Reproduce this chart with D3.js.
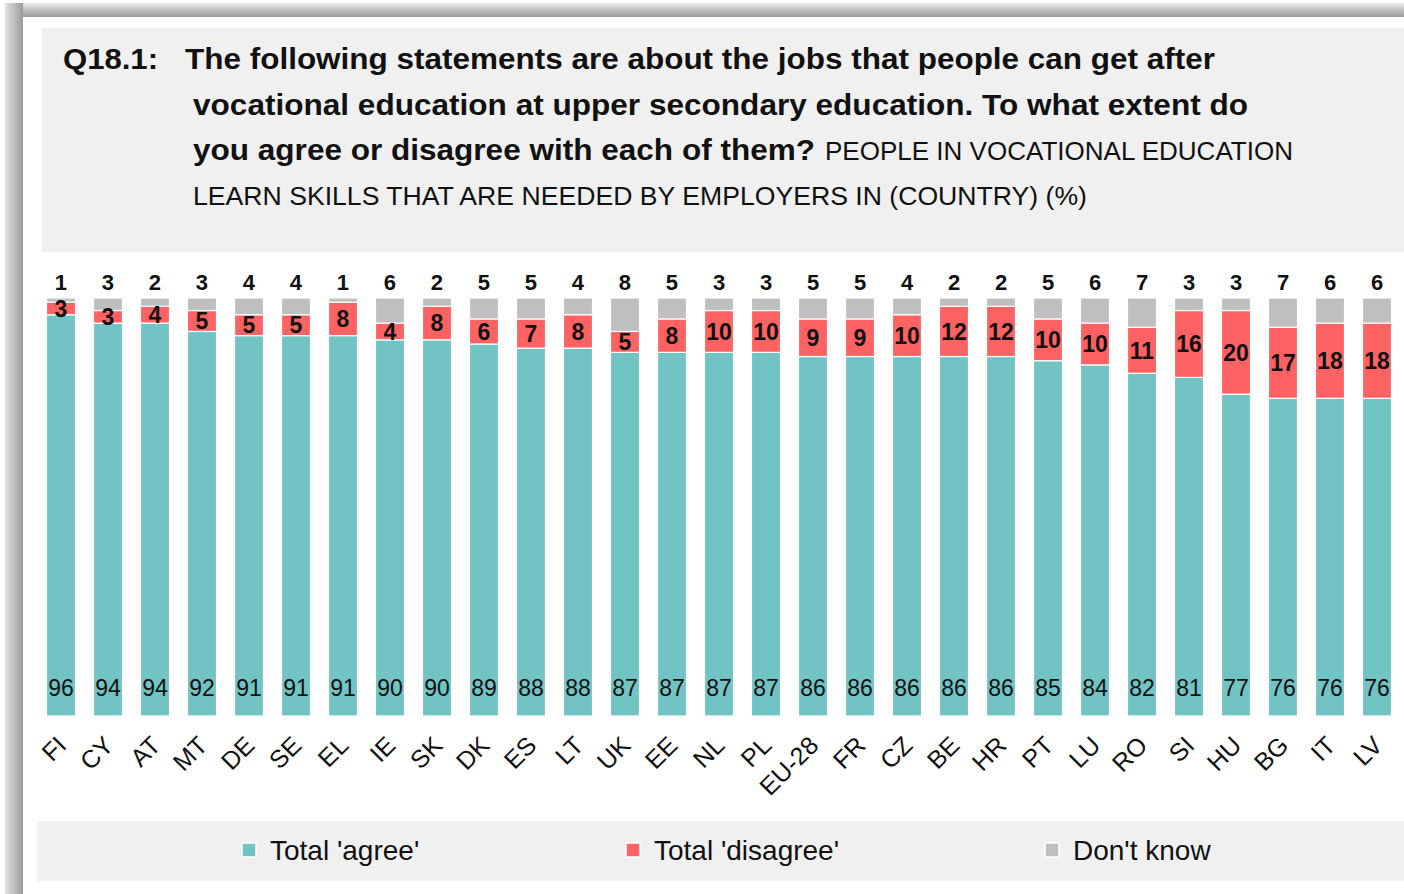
<!DOCTYPE html>
<html>
<head>
<meta charset="utf-8">
<script src="https://cdn.jsdelivr.net/npm/d3@7"></script>
<style>
    body { margin: 0; background: #fff; }
    svg text { font-family: "Liberation Sans", Arial, sans-serif; fill: #111; }
</style>
</head>
<body>
<div class="canvas"></div>
<script>
// data
const countries = ['FI', 'CY', 'AT', 'MT', 'DE', 'SE', 'EL', 'IE', 'SK', 'DK', 'ES', 'LT', 'UK', 'EE', 'NL',
    'PL', 'EU-28', 'FR', 'CZ', 'BE', 'HR', 'PT', 'LU', 'RO', 'SI', 'HU', 'BG', 'IT', 'LV'];
const agree    = [96, 94, 94, 92, 91, 91, 91, 90, 90, 89, 88, 88, 87, 87, 87, 87, 86, 86, 86, 86, 86, 85, 84, 82, 81, 77, 76, 76, 76];
const disagree = [3, 3, 4, 5, 5, 5, 8, 4, 8, 6, 7, 8, 5, 8, 10, 10, 9, 9, 10, 12, 12, 10, 10, 11, 16, 20, 17, 18, 18];
const dontKnow = [1, 3, 2, 3, 4, 4, 1, 6, 2, 5, 5, 4, 8, 5, 3, 3, 5, 5, 4, 2, 2, 5, 6, 7, 3, 3, 7, 6, 6];
const seriesKeys = ['agree', 'disagree', 'dk'];
const seriesNames = ["Total 'agree'", "Total 'disagree'", "Don't know"];

const titleLead = 'Q18.1:';
const titleBold = [
    'The following statements are about the jobs that people can get after',
    'vocational education at upper secondary education. To what extent do',
    'you agree or disagree with each of them?'
];
const titleCaps = [
    'PEOPLE IN VOCATIONAL EDUCATION',
    'LEARN SKILLS THAT ARE NEEDED BY EMPLOYERS IN (COUNTRY) (%)'
];

//##LAYOUT
let width = 1404, height = 894;
const colors = { agree: '#72c3c4', disagree: '#ff6262', dk: '#bfbfbf' };
const boldPos = [{ x: 185, y: 69, w: 1030 }, { x: 193, y: 115, w: 1055 }, { x: 193, y: 160, w: 622 }];
const capsPos = [{ x: 825, y: 160, w: 468 }, { x: 193, y: 205, w: 894 }];
const legendX = [242, 626, 1045];

const rows = countries.map((c, i) => ({ country: c, agree: agree[i], disagree: disagree[i], dk: dontKnow[i] }));

const svg = d3.select('.canvas')
    .append('svg')
    .attr('width', width)
    .attr('height', height)
    ;

// frame with the shaded border
const defs = svg.append('defs');
const gTop = defs.append('linearGradient').attr('id', 'gTop').attr('x1', 0).attr('y1', 0).attr('x2', 0).attr('y2', 1);
gTop.append('stop').attr('offset', 0).attr('stop-color', '#ececec');
gTop.append('stop').attr('offset', 0.6).attr('stop-color', '#b8b8b8');
gTop.append('stop').attr('offset', 1).attr('stop-color', '#9c9c9c');
const gLeft = defs.append('linearGradient').attr('id', 'gLeft').attr('x1', 0).attr('y1', 0).attr('x2', 1).attr('y2', 0);
gLeft.append('stop').attr('offset', 0).attr('stop-color', '#e2e2e2');
gLeft.append('stop').attr('offset', 0.5).attr('stop-color', '#c0c0c0');
gLeft.append('stop').attr('offset', 1).attr('stop-color', '#9a9a9a');

svg.append('rect').attr('x', 5).attr('y', 3).attr('width', width - 5).attr('height', 14).attr('fill', 'url(#gTop)');
svg.append('rect').attr('x', 5).attr('y', 3).attr('width', 18).attr('height', height - 3).attr('fill', 'url(#gLeft)');

// title box
svg.append('rect').attr('x', 42).attr('y', 28).attr('width', width - 42).attr('height', 224).attr('fill', '#f0f0f0');

svg.append('text')
    .attr('x', 63).attr('y', 69)
    .attr('font-size', 29).attr('font-weight', 'bold')
    .attr('textLength', 95).attr('lengthAdjust', 'spacingAndGlyphs')
    .text(titleLead);

svg.selectAll('.t-bold')
    .data(titleBold)
    .enter()
    .append('text')
    .attr('class', 't-bold')
    .attr('x', (d, i) => boldPos[i].x)
    .attr('y', (d, i) => boldPos[i].y)
    .attr('font-size', 29).attr('font-weight', 'bold')
    .attr('textLength', (d, i) => boldPos[i].w).attr('lengthAdjust', 'spacingAndGlyphs')
    .text(d => d);

svg.selectAll('.t-caps')
    .data(titleCaps)
    .enter()
    .append('text')
    .attr('class', 't-caps')
    .attr('x', (d, i) => capsPos[i].x)
    .attr('y', (d, i) => capsPos[i].y)
    .attr('font-size', 25)
    .attr('textLength', (d, i) => capsPos[i].w).attr('lengthAdjust', 'spacingAndGlyphs')
    .text(d => d);

// scales
const xScale = d3.scaleBand()
    .domain(countries)
    .range([46.5, 1391.5])
    .paddingInner(0.383)
    .paddingOuter(0)
    ;

const yScale = d3.scaleLinear()
    .domain([0, 100])
    .range([716, 298])
    ;

const stacked = d3.stack().keys(seriesKeys)(rows);

const layers = svg.selectAll('.layer')
    .data(stacked)
    .enter()
    .append('g')
    .attr('class', 'layer')
    .attr('fill', d => colors[d.key])
    ;

layers.selectAll('rect')
    .data(d => d)
    .enter()
    .append('rect')
    .attr('x', d => xScale(d.data.country))
    .attr('y', d => yScale(d[1]))
    .attr('width', xScale.bandwidth())
    .attr('height', d => yScale(d[0]) - yScale(d[1]))
    .attr('stroke', '#fff')
    .attr('stroke-width', 1.2)
    ;

const cx = (c) => xScale(c) + xScale.bandwidth() / 2;

// agree labels near the foot of the bars
svg.selectAll('.lab-agree')
    .data(rows)
    .enter()
    .append('text')
    .attr('class', 'lab-agree')
    .attr('x', d => cx(d.country))
    .attr('y', yScale(0) - 20)
    .attr('text-anchor', 'middle')
    .attr('font-size', 23)
    .text(d => d.agree);

// disagree labels in the middle of the red part
svg.selectAll('.lab-dis')
    .data(rows)
    .enter()
    .append('text')
    .attr('class', 'lab-dis')
    .attr('x', d => cx(d.country))
    .attr('y', d => yScale(d.agree + d.disagree / 2))
    .attr('dy', '0.36em')
    .attr('text-anchor', 'middle')
    .attr('font-size', 23).attr('font-weight', 'bold')
    .text(d => d.disagree);

// don't know labels above the bars
svg.selectAll('.lab-dk')
    .data(rows)
    .enter()
    .append('text')
    .attr('class', 'lab-dk')
    .attr('x', d => cx(d.country))
    .attr('y', yScale(100) - 8)
    .attr('text-anchor', 'middle')
    .attr('font-size', 22).attr('font-weight', 'bold')
    .text(d => d.dk);

// country axis, slanted
const xAxis = d3.axisBottom(xScale).tickSize(0).tickPadding(0);
svg.append('g')
    .attr('transform', `translate(0, 716)`)
    .call(xAxis)
    .call(g => g.select('.domain').remove())
    .call(g => g.selectAll('.tick text')
        .attr('font-size', 25)
        .attr('fill', '#111')
        .attr('font-family', '"Liberation Sans", Arial, sans-serif')
        .attr('text-anchor', 'end')
        .attr('dy', 0)
        .attr('transform', 'translate(7, 31) rotate(-45)'))
    ;

// legend
svg.append('rect').attr('x', 37).attr('y', 821).attr('width', width - 37).attr('height', 60).attr('fill', '#f0f0f0');

const legend = svg.selectAll('.legend')
    .data(seriesKeys)
    .enter()
    .append('g')
    .attr('class', 'legend')
    .attr('transform', (d, i) => `translate(${legendX[i]}, 843)`)
    ;

legend.append('rect')
    .attr('width', 14).attr('height', 14)
    .attr('fill', d => colors[d])
    .attr('stroke', '#fff').attr('stroke-width', 1.5);

legend.append('text')
    .attr('x', 28).attr('y', 17)
    .attr('font-size', 28)
    .text((d, i) => seriesNames[i]);
</script>
</body>
</html>
